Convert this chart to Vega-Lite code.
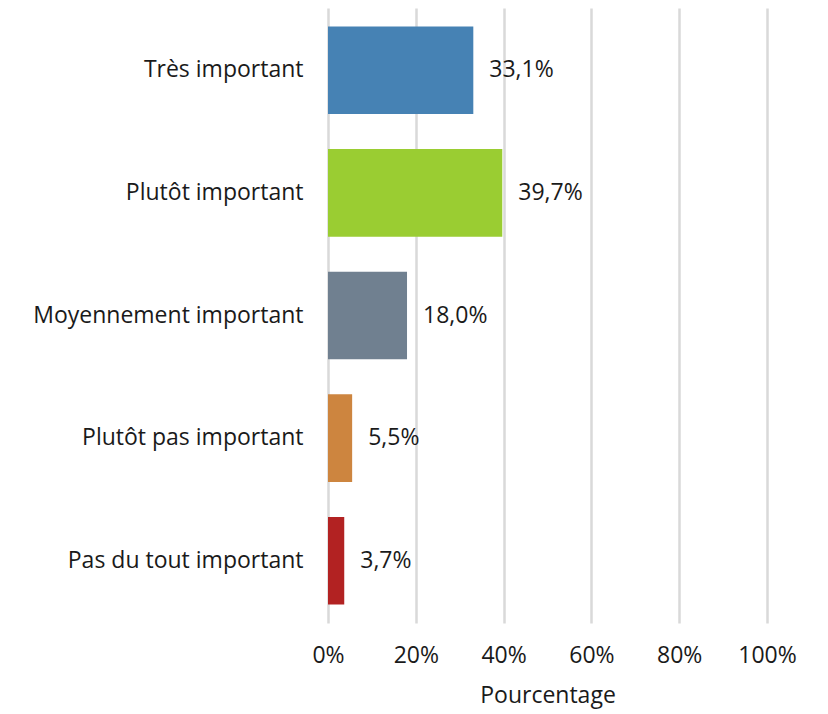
{
  "$schema": "https://vega.github.io/schema/vega-lite/v6.json",
  "width": 439,
  "height": 615,
  "autosize": {"type": "none"},
  "padding": {"left": 328, "top": 8, "right": 61, "bottom": 91},
  "config": {
    "locale": {"number": {"decimal": ",", "thousands": " ", "grouping": [3], "currency": ["", " €"]}},
    "view": {"stroke": null},
    "font": "Open Sans"
  },
  "data": {
    "values": [
      {"categorie": "Très important", "pct": 0.331},
      {"categorie": "Plutôt important", "pct": 0.397},
      {"categorie": "Moyennement important", "pct": 0.180},
      {"categorie": "Plutôt pas important", "pct": 0.055},
      {"categorie": "Pas du tout important", "pct": 0.037}
    ]
  },
  "encoding": {
    "y": {
      "field": "categorie",
      "type": "nominal",
      "sort": null,
      "scale": {"paddingInner": 0.285, "paddingOuter": 0.15},
      "axis": {
        "title": null,
        "domain": false,
        "ticks": false,
        "labelPadding": 25,
        "labelFontSize": 23,
        "labelColor": "#1a1a1a",
        "labelFont": "Open Sans",
        "labelLimit": 400
      }
    },
    "x": {
      "field": "pct",
      "type": "quantitative",
      "scale": {"domain": [0, 1]},
      "axis": {
        "title": "Pourcentage",
        "titleFont": "Open Sans",
        "titleFontSize": 23,
        "titleFontWeight": "normal",
        "titleColor": "#1a1a1a",
        "titlePadding": 17,
        "format": ".0%",
        "values": [0, 0.2, 0.4, 0.6, 0.8, 1],
        "labelFlush": false,
        "labelOverlap": false,
        "domain": false,
        "ticks": false,
        "labelPadding": 21,
        "labelFont": "Open Sans",
        "labelFontSize": 23,
        "labelColor": "#1a1a1a",
        "gridColor": "#d9d9d9",
        "gridWidth": 2.5,
        "gridOpacity": 1
      }
    }
  },
  "layer": [
    {
      "mark": {"type": "bar"},
      "encoding": {
        "color": {
          "field": "categorie",
          "type": "nominal",
          "legend": null,
          "scale": {
            "domain": ["Très important", "Plutôt important", "Moyennement important", "Plutôt pas important", "Pas du tout important"],
            "range": ["#4682B4", "#9ACD32", "#708090", "#CD853F", "#B22222"]
          }
        }
      }
    },
    {
      "mark": {"type": "text", "align": "left", "dx": 16, "fontSize": 23, "font": "Open Sans", "color": "#1a1a1a", "baseline": "middle"},
      "encoding": {
        "text": {"field": "pct", "type": "quantitative", "format": ".1%"}
      }
    }
  ]
}
